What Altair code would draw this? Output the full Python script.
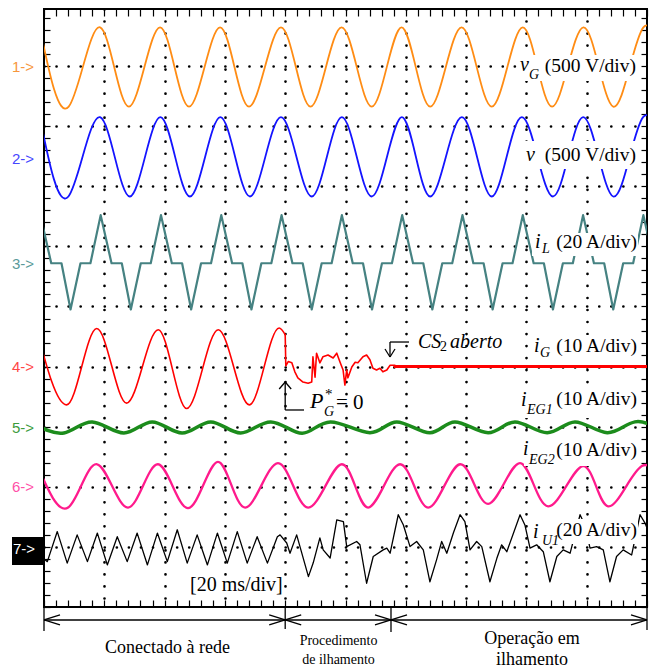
import altair as alt
import pandas as pd

# ---------------- channel settings (screen divisions) ----------------
CHANNELS = ["vG", "v", "iL", "iG", "iEG1", "iEG2", "iU1"]
REF_DIV = [8.985, 7.49, 5.72, 3.993, 2.98, 2.005, 1.0]
UNITS_PER_DIV = [500, 500, 20, 10, 10, 10, 20]
COLORS = ["#ff8c14", "#1414ff", "#468282", "#ff0000", "#1c8c1c", "#ff1a8c", "#000000"]
MARKER_TEXT = ["1->", "2->", "3->", "4->", "5->", "6->", "7->"]
MARKER_DIV = [8.985, 7.454, 5.707, 3.993, 2.978, 1.997, 0.965]
MARKER_COLORS = ["#f7963c", "#4646ff", "#5a9a9a", "#ff4646", "#3c9c3c", "#ff50a8", "#ffffff"]

# ---------------- waveforms read from the screen (t in ms) ----------------
# vG (V): extrema
VG_T = [-1.4, 8.2, 18.6, 28.2, 38.5, 48.1, 58.4, 68.0, 78.6, 88.4, 98.7,
        108.7, 118.6, 128.1, 138.5, 148.5, 158.8, 168.5, 178.9, 188.8, 198.8, 208.7]
VG_V = [330, -330, 330, -330, 330, -330, 330, -330, 330, -330, 330,
        -330, 330, -330, 330, -330, 330, -330, 330, -330, 330, -330]
# v (V): extrema
V_T = [-1.4, 8.1, 18.6, 28.5, 38.6, 48.4, 58.5, 68.3, 78.6, 88.8, 98.8,
       108.7, 118.7, 128.1, 138.6, 148.5, 158.5, 168.8, 178.8, 188.8, 198.7, 208.7]
V_V = [330, -330, 330, -330, 330, -330, 330, -330, 330, -330, 330,
       -330, 330, -330, 330, -330, 330, -330, 330, -330, 330, -330]
# iL (A): peaks, flat zones and troughs
IL_T = [-1.2, 2.4, 5.8, 8.8, 12.1, 15.4,
        18.8, 22.4, 25.8, 28.8, 32.1, 35.4,
        38.8, 42.4, 45.8, 48.8, 52.1, 55.4,
        58.8, 62.4, 65.8, 68.8, 72.1, 75.4,
        78.8, 82.4, 85.8, 88.8, 92.1, 95.4,
        98.8, 102.4, 105.8, 108.8, 112.1, 115.4,
        118.8, 122.4, 125.8, 128.8, 132.1, 135.4,
        138.8, 142.4, 145.8, 148.8, 152.1, 155.4,
        158.8, 162.4, 165.8, 168.8, 172.1, 175.4,
        178.8, 182.4, 185.8, 188.8, 192.1, 195.4,
        198.8, 202.4]
IL_A = [16, 0, 0, -15.4, 0, 0,
        16, 0, 0, -15.4, 0, 0,
        16, 0, 0, -15.4, 0, 0,
        16, 0, 0, -15.4, 0, 0,
        16, 0, 0, -15.4, 0, 0,
        16, 0, 0, -15.4, 0, 0,
        16, 0, 0, -15.4, 0, 0,
        16, 0, 0, -15.4, 0, 0,
        16, 0, 0, -15.4, 0, 0,
        16, 0, 0, -15.4, 0, 0,
        16, 0]
# iG (A): grid-connected sine, islanding transient, zero
IG_SINE_T = [-2.5, 7.5, 17.5, 27.4, 37.9, 47.3, 57.8, 68.1, 78.0, 80.0]
IG_SINE_A = [6.4, -6.3, 6.4, -6.0, 6.2, -6.9, 6.2, -6.3, 6.5, 5.4]
IG_TRANS_T = [80.0, 80.2, 81.0, 82.2, 83.2, 84.2, 85.9, 87.6, 88.8, 89.2, 89.9, 90.4,
              91.5, 92.5, 94.2, 95.9, 97.1, 98.2, 99.2, 99.8, 100.4, 100.8, 102.1,
              103.2, 104.1, 105.8, 107.0, 108.1, 109.1, 110.3, 111.4, 112.4, 113.7,
              114.8, 116.4]
IG_TRANS_A = [5.4, 0.2, 0.9, 0.7, -0.8, -1.8, -2.5, -2.7, -2.5, 1.7, -1.7, 2.3,
              0.7, 1.7, 2.0, 1.5, 2.3, 0.8, -0.5, -3.0, -0.5, -1.8, 0.0,
              0.8, 0.7, 1.7, 2.0, 1.2, -0.2, -0.5, -0.2, -0.8, -0.5,
              0.3, 0.3]
IG_OFF_T = [116.4, 200.0]
IG_OFF_A = [0.1, 0.1]
# iEG1 (A): extrema
IEG1_T = [-4.0, 6.6, 16.0, 26.5, 35.9, 45.8, 55.3, 65.2, 75.2, 85.6, 95.0,
          108.1, 117.0, 128.0, 136.3, 147.3, 156.2, 166.9, 176.1, 186.8, 196.0, 206.0]
IEG1_A = [0.9, -0.85, 1.0, -0.85, 1.0, -0.85, 1.0, -0.85, 1.0, -0.9, 1.0,
          -0.8, 1.0, -0.8, 1.0, -0.8, 1.0, -0.8, 1.0, -0.8, 1.0, -0.8]
# iEG2 (A): extrema
IEG2_T = [-2.4, 8.0, 17.6, 27.9, 37.8, 47.8, 57.7, 66.7, 77.6, 87.6, 98.8,
          107.5, 118.1, 127.4, 138.0, 147.3, 157.9, 167.2, 178.8, 187.1, 198.3, 207.5]
IEG2_A = [3.7, -3.5, 3.7, -3.5, 3.7, -3.6, 4.1, -3.5, 3.9, -3.5, 3.7,
          -3.5, 3.7, -3.5, 3.7, -2.9, 3.9, -3.3, 3.4, -3.3, 3.4, -3.3]
# iU1 (A): (t, value) points
IU1 = [(0.0, -4.0), (1.1, -4.9), (4.4, 5.1), (7.7, -5.4), (11.0, 4.0), (14.4, -4.9),
       (17.7, 4.6), (21.0, -6.0), (24.3, 3.4), (27.6, -4.9), (30.9, 4.6), (34.3, -6.0),
       (37.6, 4.6), (40.9, -4.9), (44.2, 5.7), (47.5, -5.4), (50.8, 4.0), (54.2, -6.0),
       (57.5, 4.6), (60.8, -5.4), (64.1, 5.1), (67.4, -5.4), (70.7, 3.4), (74.1, -5.4),
       (77.4, 3.4), (78.3, 4.0), (80.5, 1.3), (81.6, -2.1), (83.8, 4.0), (84.9, 0.1),
       (87.7, -9.9), (89.3, -5.3), (91.5, 3.0), (92.6, -1.0), (94.9, -3.7), (97.1, 9.0),
       (99.3, 8.4), (100.4, 0.1), (103.7, 1.8), (104.8, 0.7), (107.0, -12.1), (109.2, -3.2),
       (112.5, -1.0), (113.7, -0.4), (114.8, -2.1), (117.5, 10.7), (119.2, 7.3), (121.4, 0.1),
       (123.6, 1.8), (125.8, -1.0), (128.0, -11.6), (130.2, -4.3), (131.9, 1.8), (133.6, -2.1),
       (135.8, 4.7), (138.0, 10.7), (139.6, 8.4), (141.3, -1.0), (143.5, 1.8), (145.2, 0.1),
       (147.9, -11.6), (150.2, -3.8), (151.8, 0.7), (153.5, -1.6), (157.9, 10.7), (159.5, 7.3),
       (161.2, -0.4), (163.4, 0.7), (165.6, -1.6), (167.8, -11.6), (170.1, -3.2), (172.2, -1.0),
       (174.5, -2.1), (177.8, 10.7), (179.4, 7.3), (181.1, -0.4), (183.3, 0.1), (185.5, -1.0),
       (187.7, -11.6), (189.9, -3.2), (192.1, -1.0), (194.9, -2.7), (197.7, 10.7), (199.3, 8.0),
       (200.0, 6.3)]

# ---------------- axes (divisions) ----------------
GRID_T = [20, 40, 60, 80, 100, 120, 140, 160, 180]
GRID_D = [1, 2, 3, 4, 5, 6, 7, 8, 9]
TICK_T = list(range(0, 201, 4))
TICK_D = [round(0.2 * k, 1) for k in range(50)]

XS = alt.Scale(domain=[0, 200], nice=False, zero=False)
YS = alt.Scale(domain=[0, 9.95], nice=False, zero=False)


def ch_df(name, ts, vals):
    i = CHANNELS.index(name)
    return pd.DataFrame({"t": ts, "d": [REF_DIV[i] + v / UNITS_PER_DIV[i] for v in vals]})


def wave(df, name, width, interp):
    return alt.Chart(df).mark_line(
        color=COLORS[CHANNELS.index(name)], strokeWidth=width, interpolate=interp,
        clip=True, strokeJoin="round", strokeCap="round"
    ).encode(x=alt.X("t:Q", scale=XS, axis=None), y=alt.Y("d:Q", scale=YS, axis=None))


frame = pd.DataFrame({"t": [0, 200], "d": [0, 9.95]})


def axis_layer(xaxis, yaxis):
    return alt.Chart(frame).mark_point(opacity=0).encode(
        x=alt.X("t:Q", scale=XS, axis=xaxis), y=alt.Y("d:Q", scale=YS, axis=yaxis))


common = dict(labels=False, domain=False, title=None)
gridstyle = dict(grid=True, ticks=False, gridColor="black", gridWidth=2.7, gridCap="round")
tickstyle = dict(grid=False, ticks=True, tickColor="black", tickWidth=1.2)
grid_axes = axis_layer(
    alt.Axis(orient="bottom", values=GRID_T, gridDash=[0, 12.02], **gridstyle, **common),
    alt.Axis(orient="left", values=GRID_D, gridDash=[0, 12.06], **gridstyle, **common))
tick_a = axis_layer(
    alt.Axis(orient="bottom", values=TICK_T, tickSize=7, offset=-7, **tickstyle, **common),
    alt.Axis(orient="left", values=TICK_D, tickSize=6, offset=-6, **tickstyle, **common))
tick_b = axis_layer(
    alt.Axis(orient="top", values=TICK_T, tickSize=7, offset=-7, **tickstyle, **common),
    alt.Axis(orient="right", values=TICK_D, tickSize=6, offset=-6, **tickstyle, **common))

waves = [
    wave(ch_df("vG", VG_T, VG_V), "vG", 1.8, "natural"),
    wave(ch_df("v", V_T, V_V), "v", 1.8, "natural"),
    wave(ch_df("iL", IL_T, IL_A), "iL", 2.2, "linear"),
    wave(ch_df("iG", IG_SINE_T, IG_SINE_A), "iG", 1.6, "monotone"),
    wave(ch_df("iG", IG_TRANS_T, IG_TRANS_A), "iG", 1.6, "linear"),
    wave(ch_df("iG", IG_OFF_T, IG_OFF_A), "iG", 3.0, "linear"),
    wave(ch_df("iEG1", IEG1_T, IEG1_A), "iEG1", 3.5, "natural"),
    wave(ch_df("iEG2", IEG2_T, IEG2_A), "iEG2", 2.3, "natural"),
    wave(ch_df("iU1", [p[0] for p in IU1], [p[1] for p in IU1]), "iU1", 1.3, "linear"),
]

# ---------------- annotations (in ms / divisions) ----------------
boxes = pd.DataFrame([
    (157.21, 197.01, 9.185, 8.752, "white"),
    (159.20, 197.01, 7.754, 7.288, "white"),
    (161.86, 197.01, 6.223, 5.840, "white"),
    (161.53, 197.01, 4.526, 4.093, "white"),
    (157.21, 197.01, 3.594, 3.145, "white"),
    (159.20, 197.01, 2.779, 2.346, "white"),
    (161.19, 197.01, 1.464, 1.048, "white"),
    (47.76, 79.27, 0.516, 0.166, "white"),
    (-10.61, 0.0, 1.165, 0.699, "black"),
], columns=["t1", "t2", "d1", "d2", "c"])

rules = pd.DataFrame([
    (114.76, 121.06, 4.409, 4.409), (114.76, 114.76, 4.409, 4.160),
    (113.10, 114.76, 4.293, 4.160), (116.42, 114.76, 4.293, 4.160),
    (80.0, 80.0, 3.278, 3.744), (80.0, 86.24, 3.278, 3.278),
    (78.01, 80.0, 3.627, 3.744), (81.99, 80.0, 3.627, 3.744),
    (0.0, 0.0, 0.0, -0.399), (80.0, 80.0, 0.0, -0.366),
    (115.09, 115.09, 0.0, -0.416), (200.0, 200.0, 0.0, -0.383),
    (0.0, 200.0, -0.216, -0.216),
    (0.0, 5.31, -0.216, -0.133), (0.0, 5.31, -0.216, -0.299),
    (80.0, 74.69, -0.216, -0.133), (80.0, 74.69, -0.216, -0.299),
    (80.0, 85.31, -0.216, -0.133), (80.0, 85.31, -0.216, -0.299),
    (115.09, 109.78, -0.216, -0.133), (115.09, 109.78, -0.216, -0.299),
    (115.09, 120.40, -0.216, -0.133), (115.09, 120.40, -0.216, -0.299),
    (200.0, 194.69, -0.216, -0.133), (200.0, 194.69, -0.216, -0.299),
], columns=["t1", "t2", "d1", "d2"])

italic_left = pd.DataFrame([
    ("v", 157.88, 8.918, 20), ("G", 160.90, 8.785, 14),
    ("v", 159.87, 7.413, 20),
    ("i", 162.85, 5.973, 20), ("L", 165.17, 5.890, 14),
    ("i", 162.52, 4.243, 20), ("G", 164.51, 4.160, 14),
    ("i", 158.21, 3.344, 20), ("EG1", 160.20, 3.203, 14),
    ("i", 158.87, 2.529, 20), ("EG2", 160.86, 2.379, 14),
    ("i", 162.19, 1.148, 20), ("U1", 165.17, 1.032, 14),
    ("CS", 124.05, 4.309, 20), ("aberto", 134.66, 4.309, 20),
    ("P", 88.23, 3.311, 22), ("G", 92.87, 3.178, 14),
], columns=["s", "t", "d", "fs"]).assign(c="black")

regular_left = pd.DataFrame([
    ("2", 131.34, 4.260, 14), ("*", 93.2, 3.461, 15), ("= 0", 96.85, 3.295, 21),
    ("[20 ms/div]", 48.42, 0.266, 20),
], columns=["s", "t", "d", "fs"]).assign(c="black")

regular_right = pd.DataFrame([
    ("(500 V/div)", 196.35, 8.902, 19.5), ("(500 V/div)", 196.35, 7.421, 19.5),
    ("(20 A/div)", 196.68, 5.973, 19.5), ("(10 A/div)", 196.68, 4.243, 19.5),
    ("(10 A/div)", 196.68, 3.361, 19.5), ("(10 A/div)", 196.68, 2.512, 19.5),
    ("(20 A/div)", 196.68, 1.181, 19.5),
], columns=["s", "t", "d", "fs"]).assign(c="black")

regular_center = pd.DataFrame([
    ("Conectado à rede", 40.96, -0.765, 18), ("Procedimento", 97.68, -0.632, 14),
    ("de ilhamento", 97.68, -0.948, 14), ("Operação em", 161.86, -0.616, 18),
    ("ilhamento", 161.86, -0.965, 18),
], columns=["s", "t", "d", "fs"]).assign(c="black")

markers = pd.DataFrame({"s": MARKER_TEXT, "t": [-10.61] * 6 + [-10.28], "d": MARKER_DIV,
                        "fs": [15] * 7, "c": MARKER_COLORS})


def text_layer(df, align, style="normal", font="Liberation Serif", baseline="alphabetic"):
    return alt.Chart(df).mark_text(align=align, baseline=baseline, font=font, fontStyle=style,
                                   clip=False).encode(
        x=alt.X("t:Q", scale=XS, axis=None), y=alt.Y("d:Q", scale=YS, axis=None),
        text="s:N", size=alt.Size("fs:Q", scale=None), color=alt.Color("c:N", scale=None))


box_layer = alt.Chart(boxes).mark_rect(clip=False).encode(
    x=alt.X("t1:Q", scale=XS, axis=None), x2="t2:Q",
    y=alt.Y("d1:Q", scale=YS, axis=None), y2="d2:Q",
    color=alt.Color("c:N", scale=None))

rule_layer = alt.Chart(rules).mark_rule(color="black", strokeWidth=1.3, clip=False).encode(
    x=alt.X("t1:Q", scale=XS, axis=None), x2="t2:Q",
    y=alt.Y("d1:Q", scale=YS, axis=None), y2="d2:Q")

chart = alt.layer(
    grid_axes, tick_a, tick_b, *waves, box_layer, rule_layer,
    text_layer(italic_left, "left", "italic"),
    text_layer(regular_left, "left"),
    text_layer(regular_right, "right"),
    text_layer(regular_center, "center"),
    text_layer(markers, "left", font="Liberation Sans", baseline="middle"),
).resolve_axis(x="independent", y="independent").properties(
    width=603, height=598,
    padding={"left": 36, "top": 1, "right": 4, "bottom": 62},
    autosize=alt.AutoSizeParams(type="none"),
    background="white",
).configure_view(stroke="black", strokeWidth=2)

chart.save("out.html", embed_options={"renderer": "svg", "actions": False})
